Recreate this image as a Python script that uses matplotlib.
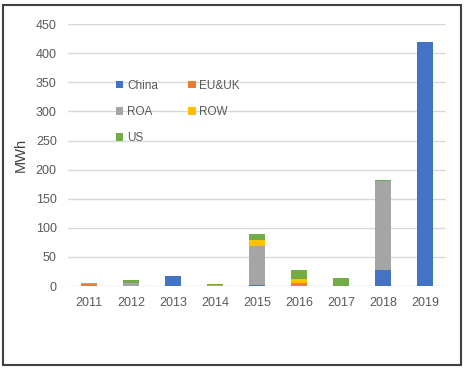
import numpy as np
from matplotlib import pyplot as plt
from matplotlib.patches import Rectangle

plt.rcParams['font.family'] = ['Liberation Sans', 'DejaVu Sans']

years = ['2011', '2012', '2013', '2014', '2015', '2016', '2017', '2018', '2019']
china = [0, 0, 18, 0, 2, 0, 0, 28, 420]
eu_uk = [4, 0, 0, 0, 0, 5, 0, 0, 0]
roa = [1, 6, 0, 1, 66, 0, 0, 152, 0]
row = [0, 0, 0, 0, 12, 8, 0, 1, 0]
us = [0, 5, 0, 3, 9, 14, 14, 1, 0]

series = [('China', china, '#4472C4'), ('EU&UK', eu_uk, '#ED7D31'),
          ('ROA', roa, '#A5A5A5'), ('ROW', row, '#FFC000'), ('US', us, '#70AD47')]

fig = plt.figure(figsize=(4.68, 3.72), dpi=100)
ax = fig.add_axes([0.145, 0.231, 0.808, 0.704])

x = np.arange(len(years))
bottom = np.zeros(len(years))
bars = {}
for name, vals, col in series:
    bars[name] = ax.bar(x, vals, width=0.38, bottom=bottom, color=col, label=name, zorder=3)
    bottom += np.array(vals)

ax.set_xlim(-0.5, len(years) - 0.5)
ax.set_ylim(0, 450)
ax.set_yticks(range(0, 451, 50))
ax.set_xticks(x)
ax.set_xticklabels(years)
ax.grid(axis='y', color='#D9D9D9', linewidth=1, zorder=0)
for s in ax.spines.values():
    s.set_visible(False)
ax.tick_params(length=0, labelsize=9, colors='#595959', pad=8)
ax.set_ylabel('MWh', fontsize=10.5, color='#404040', labelpad=6)

# legend fills row by row in the original
order = ['China', 'ROA', 'US', 'EU&UK', 'ROW']
ax.legend([bars[n] for n in order], order, ncol=2, frameon=False, fontsize=8.5,
          loc='upper left', bbox_to_anchor=(0.1, 0.828), handlelength=0.6,
          handleheight=0.6, handletextpad=0.3, columnspacing=2.6,
          labelspacing=1.2, labelcolor='#595959')

fig.patches.append(Rectangle((3 / 468, 1 - 365 / 372), 458 / 468, 360 / 372,
                             transform=fig.transFigure, fill=False,
                             edgecolor='#404040', linewidth=1.5))

fig.savefig('out.png', dpi=100)
